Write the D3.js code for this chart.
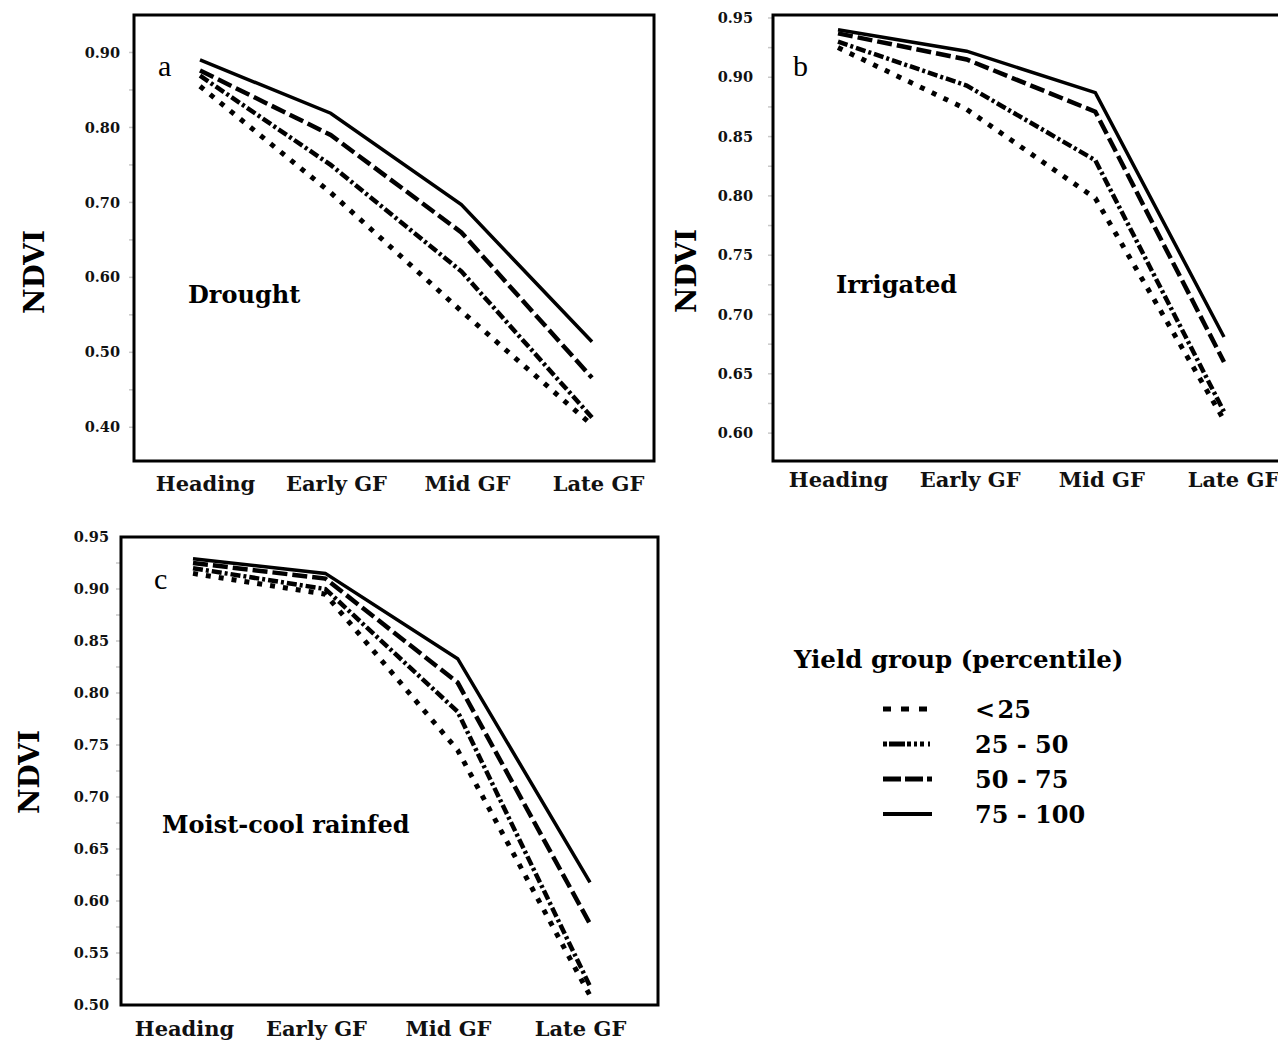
<!DOCTYPE html>
<html lang="en">
<meta charset="utf-8">
<head>
	<title>NDVI by yield group</title>
</head>
<style type="text/css">
	body { margin: 0; background: white; }
	.box { fill: none; stroke: black; stroke-width: 3; }
	.tick text { font-family: 'DejaVu Serif', serif; font-weight: bold; fill: #111; }
	.yax .tick text { font-size: 14.5px; }
	.xax .tick text { font-size: 21px; }
	.domain { display: none; }
	.ylab { font-family: 'DejaVu Serif', serif; font-weight: bold; font-size: 28px; }
	.letter { font-family: 'Liberation Serif', serif; font-size: 30px; }
	.cond { font-family: 'DejaVu Serif', serif; font-weight: bold; font-size: 24px; }
	.line { fill: none; stroke: black; }
	.legTitle { font-family: 'DejaVu Serif', serif; font-weight: bold; font-size: 24.5px; }
	.legText { font-family: 'DejaVu Serif', serif; font-weight: bold; font-size: 24px; }
</style>
<script src="https://d3js.org/d3.v7.min.js"></script>
<body>
<script type="text/javascript">

	// data
	var stages = ["Heading", "Early GF", "Mid GF", "Late GF"];
	var groups = ["< 25", "25 - 50", "50 - 75", "75 - 100"];

	var droughtVals = [
		[0.855, 0.713, 0.555, 0.403],
		[0.869, 0.750, 0.608, 0.413],
		[0.876, 0.790, 0.660, 0.466],
		[0.890, 0.819, 0.697, 0.514]
	];
	var irrigatedVals = [
		[0.925, 0.873, 0.798, 0.611],
		[0.930, 0.893, 0.830, 0.618],
		[0.937, 0.915, 0.871, 0.660],
		[0.940, 0.922, 0.887, 0.681]
	];
	var moistVals = [
		[0.915, 0.895, 0.745, 0.509],
		[0.920, 0.900, 0.782, 0.518],
		[0.925, 0.910, 0.810, 0.578],
		[0.929, 0.915, 0.833, 0.618]
	];

	var droughtTicks = [0.40, 0.50, 0.60, 0.70, 0.80, 0.90];
	var irrTicks = [0.60, 0.65, 0.70, 0.75, 0.80, 0.85, 0.90, 0.95];
	var wetTicks = [0.50, 0.55, 0.60, 0.65, 0.70, 0.75, 0.80, 0.85, 0.90, 0.95];

	var dashes = ["5,8", "10,3,3,3", "15,5", null];
	var widths = [5, 4.5, 4.5, 3.5];
	var legDashes = ["8,10", "4,2,16,2,4,3,3,3,4", "18,4", null];

	var svg = d3.select("body").append("svg")
				.attr("width", 1278)
				.attr("height", 1048);

	var panels = [
		{ vals: droughtVals, ticks: droughtTicks, dom: [0.355, 0.950], box: [134, 15, 654, 461],
		  xr: [200, 592], lr: [205, 598], labOff: 14, letter: "a", lx: 158, ly: 76,
		  cond: "Drought", cx: 188, cy: 303, ylx: 44, yly: 272, xly: 497 },
		{ vals: irrigatedVals, ticks: irrTicks, dom: [0.5765, 0.9525], box: [773, 15, 1292, 461],
		  xr: [838, 1224], lr: [838, 1233], labOff: 20, letter: "b", lx: 793, ly: 76,
		  cond: "Irrigated", cx: 836, cy: 293, ylx: 696, yly: 271, xly: 493 },
		{ vals: moistVals, ticks: wetTicks, dom: [0.50, 0.95], box: [121, 537, 658, 1005],
		  xr: [193, 590], lr: [184, 580], labOff: 12, letter: "c", lx: 154, ly: 589,
		  cond: "Moist-cool rainfed", cx: 162, cy: 833, ylx: 39, yly: 772, xly: 1042 }
	];

	panels.forEach(function(p) {
		var x = d3.scalePoint().domain(stages).range(p.xr);
		var xl = d3.scalePoint().domain(stages).range(p.lr);
		var y = d3.scaleLinear().domain(p.dom).range([p.box[3], p.box[1]]);

		// faint minor ticks on the left edge
		var step = (p.ticks[1] - p.ticks[0]) / 2;
		var minor = d3.range(p.ticks[0] - step, p.dom[1], step).filter(function(d) { return d > p.dom[0]; });
		svg.append("g").selectAll("line")
		   .data(minor)
		   .enter().append("line")
		   .attr("x1", p.box[0] - 5).attr("x2", p.box[0] - 1)
		   .attr("y1", function(d) { return y(d); })
		   .attr("y2", function(d) { return y(d); })
		   .attr("stroke", "#c8c8c8").attr("stroke-width", 1.5);

		svg.append("g")
		   .attr("class", "yax")
		   .attr("transform", "translate(" + (p.box[0] - p.labOff) + ",0)")
		   .call(d3.axisLeft(y).tickValues(p.ticks).tickFormat(d3.format(".2f")).tickSize(0).tickPadding(0));

		svg.append("g")
		   .attr("class", "xax")
		   .attr("transform", "translate(0," + (p.xly - 21) + ")")
		   .call(d3.axisBottom(xl).tickSize(0).tickPadding(0));

		var line = d3.line()
					 .x(function(d, i) { return x(stages[i]); })
					 .y(function(d) { return y(d); });

		p.vals.forEach(function(v, k) {
			svg.append("path")
			   .datum(v)
			   .attr("class", "line")
			   .attr("d", line)
			   .attr("stroke-dasharray", dashes[k])
			   .attr("stroke-width", widths[k]);
		});

		svg.append("rect")
		   .attr("class", "box")
		   .attr("x", p.box[0]).attr("y", p.box[1])
		   .attr("width", p.box[2] - p.box[0])
		   .attr("height", p.box[3] - p.box[1]);

		svg.append("text")
		   .attr("class", "ylab")
		   .attr("text-anchor", "middle")
		   .attr("transform", "translate(" + p.ylx + "," + p.yly + ")rotate(-90)")
		   .text("NDVI");

		svg.append("text").attr("class", "letter")
		   .attr("x", p.lx).attr("y", p.ly).text(p.letter);

		svg.append("text").attr("class", "cond")
		   .attr("x", p.cx).attr("y", p.cy).text(p.cond);
	});

	// legend
	svg.append("text").attr("class", "legTitle")
	   .attr("x", 794).attr("y", 668)
	   .text("Yield group (percentile)");

	var legY = d3.scalePoint().domain(groups).range([709, 814]);

	groups.forEach(function(g, k) {
		svg.append("line")
		   .attr("x1", 883).attr("x2", 932)
		   .attr("y1", legY(g)).attr("y2", legY(g))
		   .attr("stroke", "black")
		   .attr("stroke-width", k == 3 ? 4 : 5)
		   .attr("stroke-dasharray", legDashes[k]);
		svg.append("text").attr("class", "legText")
		   .attr("x", 975).attr("y", legY(g) + 9)
		   .text(g == "< 25" ? "<\u200a25" : g);
	});

</script>
</body>
</html>
